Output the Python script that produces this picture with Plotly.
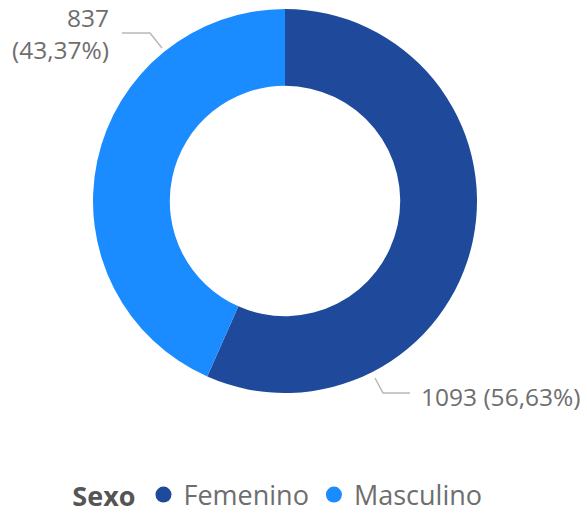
import plotly.graph_objects as go

categories = ["Femenino", "Masculino"]
values = [1093, 837]
pct_labels = ["56,63%", "43,37%"]
colors = ["#1F4A9C", "#1A8CFF"]

W, H = 587, 516
cx, cy, R = 285, 201, 192

fig = go.Figure()
fig.add_trace(go.Pie(
    labels=categories, values=values, sort=False, direction="clockwise",
    rotation=0, hole=0.60, textinfo="none", hoverinfo="label+value+percent",
    marker=dict(colors=colors, line=dict(width=0)),
    domain=dict(x=[(cx - R) / W, (cx + R) / W], y=[(H - cy - R) / H, (H - cy + R) / H]),
    showlegend=False,
))
for c, col in zip(categories, colors):
    fig.add_trace(go.Scatter(x=[None], y=[None], mode="markers", name=c,
                             marker=dict(symbol="circle", size=21, color=col)))

def px(x):
    return x / W

def py(y):
    return 1 - y / H

label_font = dict(family="Open Sans, sans-serif", size=24.5, color="#6E6E6E")
fig.add_annotation(x=px(111), y=py(33), xref="paper", yref="paper",
                   text=f"{values[1]}<br>({pct_labels[1]})", showarrow=False,
                   xanchor="right", yanchor="middle", align="right", font=label_font)
fig.add_annotation(x=px(419), y=py(396), xref="paper", yref="paper",
                   text=f"{values[0]} ({pct_labels[0]})", showarrow=False,
                   xanchor="left", yanchor="middle", align="left", font=label_font)

line = dict(color="#B8B8B8", width=1.5)
fig.add_shape(type="path", xref="paper", yref="paper",
              path=f"M {px(122)} {py(33)} L {px(150)} {py(33)} L {px(162)} {py(48)}", line=line)
fig.add_shape(type="path", xref="paper", yref="paper",
              path=f"M {px(375)} {py(378)} L {px(383)} {py(393)} L {px(410)} {py(393)}", line=line)

fig.update_layout(
    width=W, height=H, margin=dict(l=0, r=0, t=0, b=0, autoexpand=False),
    paper_bgcolor="white", plot_bgcolor="white",
    xaxis=dict(visible=False), yaxis=dict(visible=False),
    legend=dict(orientation="h", x=0.475, xanchor="center", y=py(495), yanchor="middle",
                title=dict(text="<b>Sexo</b>", font=dict(size=27, color="#555555")),
                font=dict(family="Open Sans, sans-serif", size=27, color="#6E6E6E"),
                itemwidth=30, tracegroupgap=0),
    font=dict(family="Open Sans, sans-serif"),
)
fig.write_html("out.html", config={"displayModeBar": False},
               post_script="document.body.style.margin='0';")
